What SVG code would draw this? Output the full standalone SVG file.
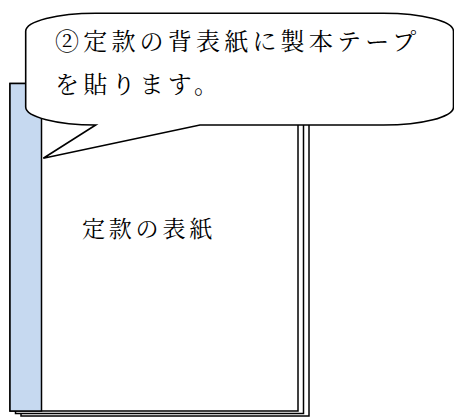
<svg xmlns="http://www.w3.org/2000/svg" width="454" height="417" viewBox="0 0 454 417">
  <style>
    .page { fill: #ffffff; stroke: #000000; stroke-width: 1.5; }
    .spine { fill: #c6d9f0; stroke: #000000; stroke-width: 1.5; }
    .callout { fill: #ffffff; stroke: #000000; stroke-width: 1.6; stroke-linejoin: miter; }
    .jp { font-family: "Noto Serif CJK JP", "Noto Sans CJK JP", sans-serif; fill: #000000; }
  </style>
  <rect x="0" y="0" width="454" height="417" fill="#ffffff"/>
  <g id="page-stack">
    <rect id="page3" class="page" x="21" y="100" width="288" height="316"/>
    <rect id="page2" class="page" x="15.5" y="95" width="288" height="318.5"/>
    <rect id="page1" class="page" x="10" y="83.5" width="288" height="327.5"/>
    <rect id="spine" class="spine" x="10" y="83.5" width="31.5" height="327.5"/>
  </g>
  <g id="cover-label">
    <text class="jp" x="82" y="236.5" font-size="23" letter-spacing="3.8">定款の表紙</text>
  </g>
  <g id="callout">
    <path class="callout" d="M 95.7 13.3 H 383.5 A 70 18 0 0 1 453.5 31.3 V 107 A 70 18 0 0 1 383.5 125 H 200 L 43.3 158.3 L 95.7 125 A 70 18 0 0 1 25.7 107 V 31.3 A 70 18 0 0 1 95.7 13.3 Z"/>
    <text class="jp" x="55" y="50" font-size="24" letter-spacing="4.2">②定款の背表紙に製本テープ</text>
    <text class="jp" x="55" y="93" font-size="24" letter-spacing="4.2">を貼ります。</text>
  </g>
</svg>
